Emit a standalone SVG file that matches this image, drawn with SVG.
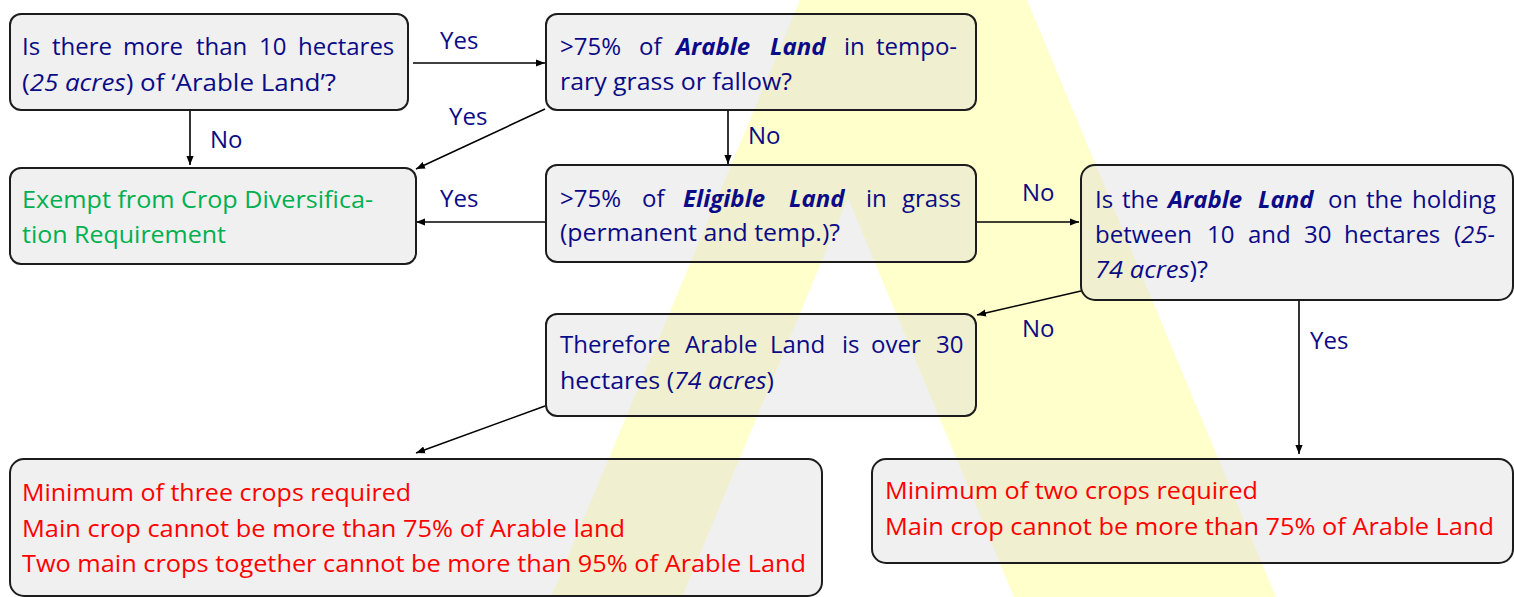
<svg xmlns="http://www.w3.org/2000/svg" width="1514" height="597" viewBox="0 0 1514 597">
<defs>
<marker id="ah" viewBox="0 0 10 8" refX="10" refY="4" markerWidth="9" markerHeight="7.5" markerUnits="userSpaceOnUse" orient="auto">
<path d="M0,0 L10,4 L0,8 Z" fill="#000"/>
</marker>
<style>
.box{fill:rgb(215,215,215);fill-opacity:.373;stroke:#1c1c1c;stroke-width:2}
text{font-family:"Open Sans","Noto Sans","Liberation Sans",sans-serif;font-size:24px}
.b{fill:#0b0b87}
.g{fill:#00b050}
.r{fill:#ff0000}
.i{font-style:italic}
.bi{font-style:italic;font-weight:bold}
.c{stroke:#000;stroke-width:1.6;fill:none;marker-end:url(#ah)}
</style>
</defs>
<rect width="1514" height="597" fill="#fff"/>
<polygon id="bg-a" points="800,0 1027,0 1276,597 1014,597 848,198 682,597 551,597" fill="#ffffcc"/>

<g id="connectors">
<line class="c" x1="413" y1="63" x2="545" y2="63"/>
<line class="c" x1="545" y1="109" x2="416" y2="169"/>
<line class="c" x1="190" y1="111" x2="190" y2="165"/>
<line class="c" x1="728" y1="111" x2="728" y2="164"/>
<line class="c" x1="546" y1="222" x2="416" y2="222"/>
<line class="c" x1="977" y1="222" x2="1079" y2="222"/>
<line class="c" x1="1081" y1="291" x2="977" y2="315"/>
<line class="c" x1="1299" y1="301" x2="1299" y2="454"/>
<line class="c" x1="545" y1="406" x2="416" y2="453"/>
<text class="b" x="440" y="49">Yes</text>
<text class="b" x="449" y="125">Yes</text>
<text class="b" x="210" y="148">No</text>
<text class="b" x="748" y="144">No</text>
<text class="b" x="440" y="207">Yes</text>
<text class="b" x="1022" y="201">No</text>
<text class="b" x="1022" y="337">No</text>
<text class="b" x="1310" y="349">Yes</text>
</g>

<g id="n1">
<rect class="box" x="10" y="14" width="398" height="96" rx="11"/>
<text class="b" y="55"><tspan x="22">Is</tspan><tspan x="52">there</tspan><tspan x="123">more</tspan><tspan x="196">than</tspan><tspan x="259">10</tspan><tspan x="298">hectares</tspan></text>
<text class="b" x="22" y="91" textLength="314" lengthAdjust="spacingAndGlyphs">(<tspan class="i">25 acres</tspan>) of ‘Arable Land’?</text>
</g>

<g id="n2">
<rect class="box" x="10" y="168" width="406" height="96" rx="11"/>
<text class="g" x="22" y="208" textLength="351" lengthAdjust="spacingAndGlyphs">Exempt from Crop Diversifica-</text>
<text class="g" x="22" y="243" textLength="204" lengthAdjust="spacingAndGlyphs">tion Requirement</text>
</g>

<g id="n3">
<rect class="box" x="546" y="14" width="430" height="96" rx="11"/>
<text class="b" y="55"><tspan x="560">&gt;75%</tspan><tspan x="639">of</tspan><tspan x="676" class="bi">Arable</tspan><tspan x="770" class="bi">Land</tspan><tspan x="844">in</tspan><tspan x="876">tempo-</tspan></text>
<text class="b" x="560" y="90" textLength="232" lengthAdjust="spacingAndGlyphs">rary grass or fallow?</text>
</g>

<g id="n4">
<rect class="box" x="546" y="165" width="430" height="97" rx="11"/>
<text class="b" y="207"><tspan x="560">&gt;75%</tspan><tspan x="642">of</tspan><tspan x="683" class="bi">Eligible</tspan><tspan x="789" class="bi">Land</tspan><tspan x="866">in</tspan><tspan x="902">grass</tspan></text>
<text class="b" x="560" y="241" textLength="280" lengthAdjust="spacingAndGlyphs">(permanent and temp.)?</text>
</g>

<g id="n5">
<rect class="box" x="1081" y="165" width="432" height="135" rx="14"/>
<text class="b" y="208"><tspan x="1095">Is</tspan><tspan x="1122">the</tspan><tspan x="1168" class="bi">Arable</tspan><tspan x="1258" class="bi">Land</tspan><tspan x="1328">on</tspan><tspan x="1366">the</tspan><tspan x="1412">holding</tspan></text>
<text class="b" y="243"><tspan x="1095">between</tspan><tspan x="1207">10</tspan><tspan x="1248">and</tspan><tspan x="1304">30</tspan><tspan x="1344">hectares</tspan><tspan x="1454">(<tspan class="i">25-</tspan></tspan></text>
<text class="b" x="1095" y="278" textLength="113" lengthAdjust="spacingAndGlyphs"><tspan class="i">74 acres</tspan>)?</text>
</g>

<g id="n6">
<rect class="box" x="546" y="314" width="430" height="102" rx="11"/>
<text class="b" y="353"><tspan x="560">Therefore</tspan><tspan x="685">Arable</tspan><tspan x="770">Land</tspan><tspan x="842">is</tspan><tspan x="871">over</tspan><tspan x="936">30</tspan></text>
<text class="b" x="560" y="389" textLength="214" lengthAdjust="spacingAndGlyphs">hectares (<tspan class="i">74 acres</tspan>)</text>
</g>

<g id="n7">
<rect class="box" x="10" y="459" width="812" height="137" rx="14"/>
<text class="r" x="22" y="501" textLength="389" lengthAdjust="spacingAndGlyphs">Minimum of three crops required</text>
<text class="r" x="22" y="537" textLength="603" lengthAdjust="spacingAndGlyphs">Main crop cannot be more than 75% of Arable land</text>
<text class="r" x="22" y="572" textLength="784" lengthAdjust="spacingAndGlyphs">Two main crops together cannot be more than 95% of Arable Land</text>
</g>

<g id="n8">
<rect class="box" x="872" y="459" width="641" height="104" rx="14"/>
<text class="r" x="885" y="499" textLength="373" lengthAdjust="spacingAndGlyphs">Minimum of two crops required</text>
<text class="r" x="885" y="535" textLength="609" lengthAdjust="spacingAndGlyphs">Main crop cannot be more than 75% of Arable Land</text>
</g>
</svg>
